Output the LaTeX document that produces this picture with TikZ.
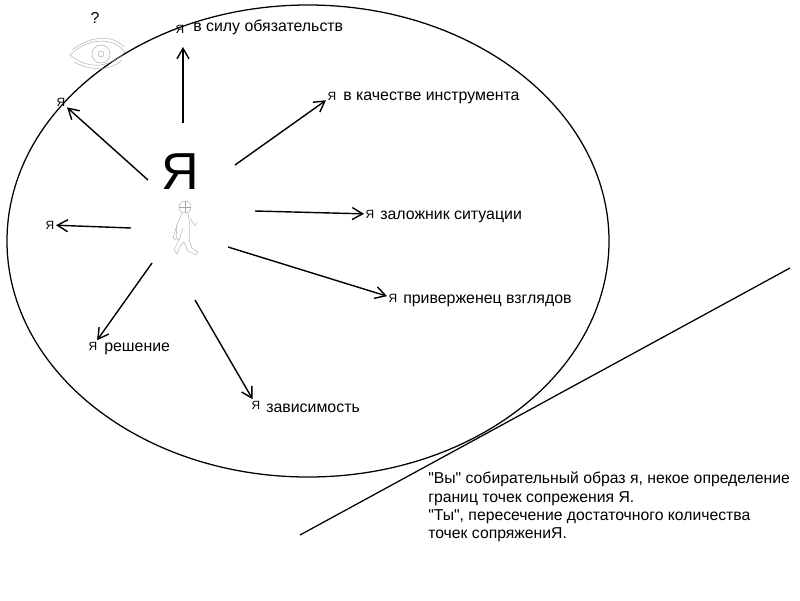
\documentclass[tikz,border=0pt]{standalone}
\usepackage{fontspec}
\setmainfont{Liberation Sans}
\usetikzlibrary{arrows.meta}
\begin{document}
\begin{tikzpicture}[x=0.025cm, y=-0.025cm, >={Straight Barb[length=2.6mm,width=3mm]}]
\tikzstyle{ya}=[draw=none, fill=none, inner sep=1pt, font=\fontsize{8.5}{9}\selectfont]
\tikzstyle{lbl}=[draw=none, fill=none, inner sep=0pt, anchor=west, font=\fontsize{11.3}{13}\selectfont]
\tikzstyle{clip}=[gray!70, line width=0.3pt]
\useasboundingbox (0,0) rectangle (800,600);

\draw[line width=0.9pt] (308,241) ellipse [x radius=301, y radius=236];
\node[draw=none, inner sep=0pt, font=\fontsize{37}{40}\selectfont] (me) at (180,172) {Я};

% eye
\draw[clip] (70,55) .. controls (88,38) and (112,36) .. (125,52) .. controls (110,68) and (88,70) .. (70,55);
\draw[clip] (72,50) .. controls (90,36) and (112,34) .. (124,47);
\draw[clip] (74,62) .. controls (92,72) and (112,70) .. (122,60);
\draw[clip] (101,54) circle [radius=9];
\draw[clip] (101,54) circle [radius=3];
\node[draw=none, inner sep=0pt, font=\fontsize{11.3}{13}\selectfont] (q) at (95,18) {?};

% walker
\draw[clip] (185,207) circle [radius=6];
\draw[clip] (179,207) -- (191,207) (185,201) -- (185,213);
\draw[clip] (182,213) -- (177,225) -- (176,238) -- (179,240) -- (183,228);
\draw[clip] (188,213) -- (190,226) -- (189,240);
\draw[clip] (177,225) -- (173,238) -- (176,240);
\draw[clip] (190,218) -- (195,226) -- (197,222);
\draw[clip] (179,240) -- (174,250) -- (177,254) -- (180,246) -- (184,242);
\draw[clip] (189,240) -- (192,248) -- (198,252) -- (196,255) -- (188,251) -- (184,242);

% labels
\node[ya] (y1) at (180,29) {Я};
\node[lbl] (t1) at (193,27) {в силу обязательств};
\node[ya] (y2) at (61,102) {Я};
\node[ya] (y3) at (332,96) {Я};
\node[lbl] (t3) at (343,98) {в качестве инструмента};
\node[ya] (y4) at (50,225) {Я};
\node[ya] (y5) at (370,214) {Я};
\node[lbl] (t5) at (380,217) {заложник ситуации};
\node[ya] (y6) at (393,298) {Я};
\node[lbl] (t6) at (403,301) {приверженец взглядов};
\node[ya] (y7) at (93,346) {Я};
\node[lbl] (t7) at (104,349) {решение};
\node[ya] (y8) at (256,405) {Я};
\node[lbl] (t8) at (266,408) {зависимость};

\coordinate (s1) at (183,123);
\coordinate (s2) at (148,180);
\coordinate (s3) at (235,165);
\coordinate (s4) at (131,228);
\coordinate (s5) at (255,211);
\coordinate (s6) at (228,247);
\coordinate (s7) at (152,263);
\coordinate (s8) at (195,300);

\draw[->, line width=1pt] (s1) -- (183,47);
\draw[->, line width=1pt] (s2) -- (y2);
\draw[->, line width=1pt] (s3) -- (y3);
\draw[->, line width=1pt] (s4) -- (y4);
\draw[->, line width=1pt] (s5) -- (y5);
\draw[->, line width=1pt] (s6) -- (y6);
\draw[->, line width=1pt] (s7) -- (y7);
\draw[->, line width=1pt] (s8) -- (y8);

% tangent
\coordinate (l1) at (300,535);
\coordinate (l2) at (790,268);
\draw[line width=0.9pt] (l1) -- (l2);
\node[draw=none, anchor=north west, inner sep=0pt, align=left, font=\fontsize{11.2}{13}\selectfont] (note) at (428,472)
{\textquotedbl Вы\textquotedbl{} собирательный образ я, некое определение\\границ точек сопрежения Я.\\\textquotedbl Ты\textquotedbl, пересечение достаточного количества\\точек сопряжениЯ.};
\end{tikzpicture}
\end{document}
